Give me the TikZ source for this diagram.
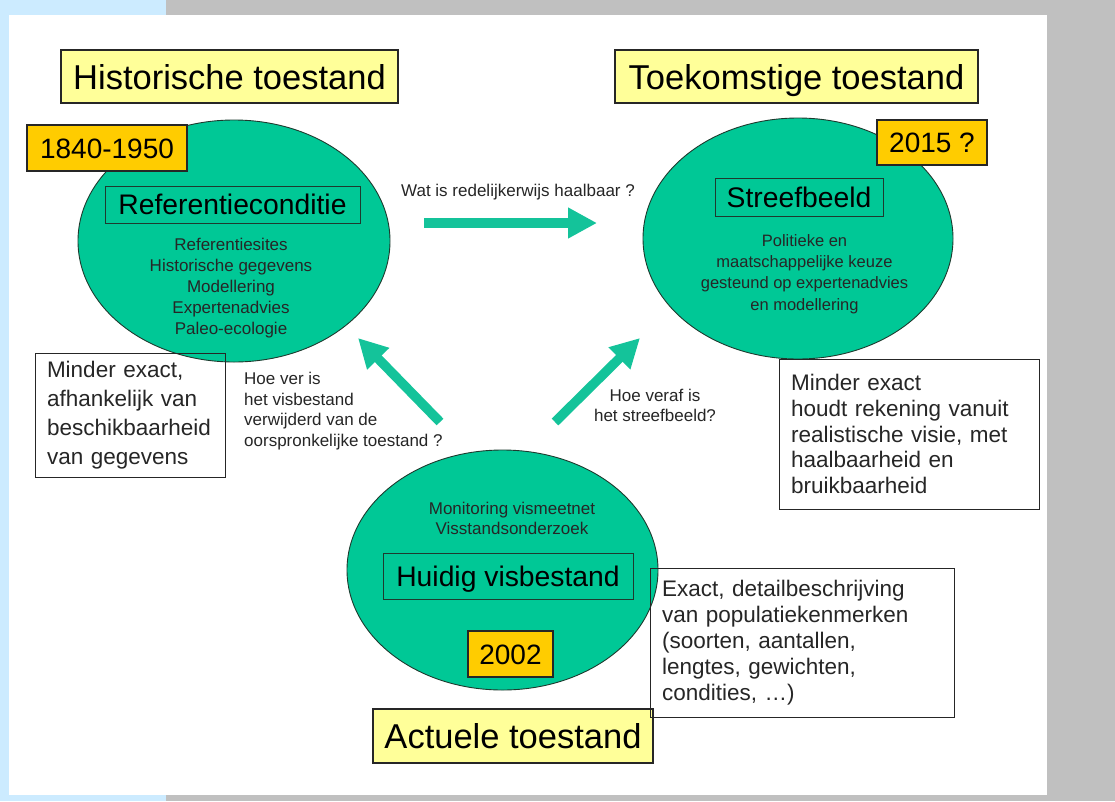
\documentclass[tikz,border=0pt]{standalone}
\usepackage{fontspec}
\setmainfont{Liberation Sans}
\usetikzlibrary{shapes.geometric,arrows.meta}
\definecolor{ovalgreen}{HTML}{00C896}
\definecolor{arrowgreen}{HTML}{14C39A}
\definecolor{ovalline}{HTML}{1E3A2E}
\definecolor{titleyellow}{HTML}{FFFF99}
\definecolor{dateorange}{HTML}{FFCC00}
\definecolor{sideblue}{HTML}{CCEBFF}
\definecolor{sidegray}{HTML}{C0C0C0}
\begin{document}
\begin{tikzpicture}[x=1pt,y=-1pt,
  oval/.style={ellipse, draw=ovalline, line width=0.9pt, fill=ovalgreen, inner sep=0pt},
  titlebox/.style={draw=black!85, line width=1.2pt, fill=titleyellow, inner sep=0pt,
    text height=25pt, text depth=0pt,
    font=\fontsize{34.5}{40}\selectfont},
  datebox/.style={draw=black!85, line width=1.2pt, fill=dateorange, inner sep=0pt,
    text height=20pt, text depth=0pt,
    font=\fontsize{28}{32}\selectfont},
  innerbox/.style={draw=ovalline, line width=1pt, inner sep=0pt,
    text height=20.5pt, text depth=0pt,
    font=\fontsize{28.3}{32}\selectfont},
  notebox/.style={draw=black!85, line width=1pt, inner xsep=12pt, inner ysep=0pt,
    align=left, text=black!85},
  smalltext/.style={font=\fontsize{17}{20.7}\selectfont, text=black!85, inner sep=0pt},
  fatarrow/.style={draw=arrowgreen, line width=9.5pt,
    -{Triangle[length=29pt,width=29pt]}}
]
\useasboundingbox (0,0) rectangle (1115,801);
\fill[sideblue] (0,0) rectangle (166,801);
\fill[sidegray] (166,0) rectangle (1115,801);
\fill[white] (9,15) rectangle (1047,795);

% ovals
\node[oval, minimum width=312pt, minimum height=242pt] (ref) at (234,241) {};
\node[oval, minimum width=310pt, minimum height=241pt] (streef) at (798,238.5) {};
\node[oval, minimum width=311pt, minimum height=240pt] (huidig) at (502.5,570) {};

% inner boxes
\node[innerbox, minimum width=255pt, minimum height=37pt] (refbox) at (232.5,204.5) {Referentieconditie};
\node[innerbox, minimum width=168pt, minimum height=38pt] (streefbox) at (799,197) {Streefbeeld};
\node[innerbox, minimum width=250pt, minimum height=46pt] (huidigbox) at (508,576) {Huidig visbestand};

% oval texts
\node[smalltext, align=center, font=\fontsize{17}{21}\selectfont] (reftxt) at (231,288)
  {Referentiesites\\Historische gegevens\\Modellering\\Expertenadvies\\Paleo-ecologie};
\node[smalltext, align=center, font=\fontsize{16.5}{21.3}\selectfont] (streeftxt) at (804.5,274)
  {Politieke en\\maatschappelijke keuze\\gesteund op expertenadvies\\en modellering};
\node[smalltext, align=center, font=\fontsize{17}{20}\selectfont] (huidigtxt) at (512,518)
  {Monitoring vismeetnet\\Visstandsonderzoek};

% date boxes
\node[datebox, minimum width=160pt, minimum height=46pt] (d1840) at (107,148) {1840-1950};
\node[datebox, minimum width=110pt, minimum height=45pt] (d2015) at (932,142.5) {2015 ?};
\node[datebox, minimum width=85pt, minimum height=46pt] (d2002) at (510.5,654) {2002};

% title boxes
\node[titlebox, minimum width=337pt, minimum height=53pt] (hist) at (229.5,76.5) {Historische toestand};
\node[titlebox, minimum width=363pt, minimum height=53pt] (toek) at (796.5,76.5) {Toekomstige toestand};
\node[titlebox, minimum width=280pt, minimum height=54pt] (actueel) at (513,736) {Actuele toestand};

% note boxes
\node[notebox, minimum width=190pt, minimum height=124pt, text width=166pt,
  font=\fontsize{22.5}{29}\selectfont] (noteL) at (130,415)
  {Minder exact,\\afhankelijk van\\beschikbaarheid\\van gegevens};
\node[notebox, minimum width=260pt, minimum height=150pt, text width=236pt,
  font=\fontsize{22.5}{25.7}\selectfont] (noteR) at (909,434)
  {Minder exact\\houdt rekening vanuit\\realistische visie, met\\haalbaarheid en\\bruikbaarheid};
\node[notebox, minimum width=304pt, minimum height=149pt, text width=280pt,
  font=\fontsize{22.5}{26}\selectfont] (noteE) at (802,642.5)
  {Exact, detailbeschrijving\\van populatiekenmerken\\(soorten, aantallen,\\lengtes, gewichten,\\condities, \dots)};

% arrow labels
\node[smalltext] (qtop) at (518,192) {Wat is redelijkerwijs haalbaar ?};
\node[smalltext, align=left, anchor=west] (qleft) at (244,411)
  {Hoe ver is\\het visbestand\\verwijderd van de\\oorspronkelijke toestand ?};
\node[smalltext, align=center, font=\fontsize{17}{20}\selectfont] (qright) at (655,405)
  {Hoe veraf is\\het streefbeeld?};

% arrows
\coordinate (a1s) at (424,223); \coordinate (a1e) at (597,223);
\coordinate (a2s) at (440,422); \coordinate (a2e) at (358,338);
\coordinate (a3s) at (555,422); \coordinate (a3e) at (640,338);
\draw[fatarrow] (a1s) -- (a1e);
\draw[fatarrow] (a2s) -- (a2e);
\draw[fatarrow] (a3s) -- (a3e);
\end{tikzpicture}
\end{document}
